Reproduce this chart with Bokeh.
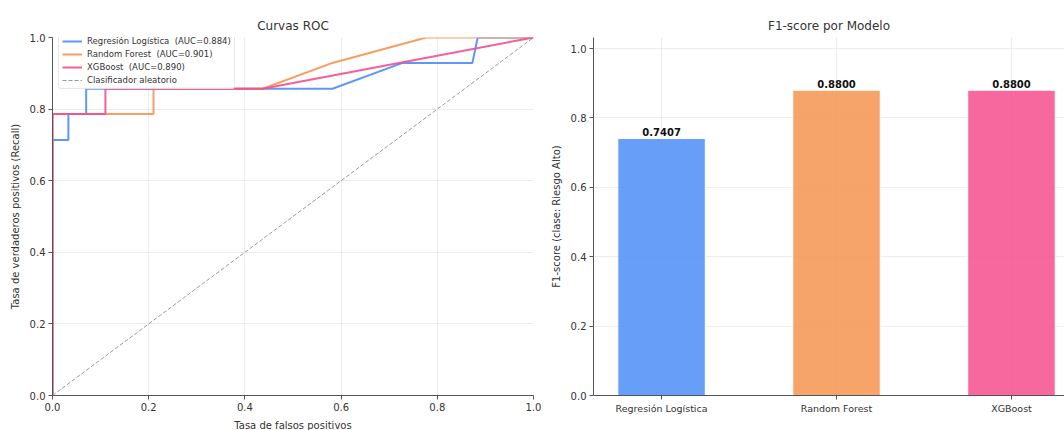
from bokeh.plotting import figure
from bokeh.layouts import row
from bokeh.models import (Range1d, FixedTicker, Legend, LegendItem, ColumnDataSource,
                          PrintfTickFormatter)
from bokeh.core.properties import value
from bokeh.embed import file_html
from bokeh.resources import INLINE

# ---------------- data ----------------
roc_names = ["Regresión Logística", "Random Forest", "XGBoost"]
roc_auc = [0.884, 0.901, 0.890]
lr_fpr = [0.0, 0.0, 0.033, 0.033, 0.07, 0.07, 0.582, 0.728, 0.873, 0.884, 1.0]
lr_tpr = [0.0, 0.714, 0.714, 0.786, 0.786, 0.857, 0.857, 0.929, 0.929, 1.0, 1.0]
rf_fpr = [0.0, 0.0, 0.21, 0.21, 0.437, 0.582, 0.777, 1.0]
rf_tpr = [0.0, 0.786, 0.786, 0.857, 0.857, 0.929, 1.0, 1.0]
xgb_fpr = [0.0, 0.0, 0.11, 0.11, 0.437, 0.72, 1.0]
xgb_tpr = [0.0, 0.786, 0.786, 0.857, 0.857, 0.929, 1.0]

models = ["Regresión Logística", "Random Forest", "XGBoost"]
f1_scores = [0.7407, 0.8800, 0.8800]
y_ticks = [0.0, 0.2, 0.4, 0.6, 0.8, 1.0]

colors = ["#4b8df7", "#f69450", "#f54e8d"]
FONT = "DejaVu Sans"
TXT = "#333333"
AX = "#555555"


def style(p):
    p.title.text_font = FONT
    p.title.text_font_size = "12px"
    p.title.text_font_style = "normal"
    p.title.text_color = TXT
    p.title.align = "center"
    for ax in (p.xaxis[0], p.yaxis[0]):
        ax.major_label_text_font = FONT
        ax.major_label_text_font_size = "10px"
        ax.major_label_text_color = TXT
        ax.axis_label_text_font = FONT
        ax.axis_label_text_font_size = "10px"
        ax.axis_label_text_font_style = "normal"
        ax.axis_label_text_color = TXT
        ax.axis_line_color = AX
        ax.major_tick_line_color = AX
        ax.major_tick_out = 4
        ax.major_tick_in = 0
        ax.minor_tick_line_color = None
        ax.axis_label_standoff = 6
        ax.major_label_standoff = 3
    p.xgrid.grid_line_color = "#e8e8e8"
    p.ygrid.grid_line_color = "#e8e8e8"
    p.grid.grid_line_alpha = 0.8
    p.outline_line_color = None
    p.background_fill_color = "white"
    p.border_fill_color = "white"


# ---------------- ROC figure ----------------
p1 = figure(output_backend="svg", toolbar_location=None,
            frame_width=481, frame_height=358,
            x_range=Range1d(0, 1), y_range=Range1d(0, 1),
            title="Curvas ROC",
            min_border_left=52, min_border_right=14,
            min_border_top=37, min_border_bottom=33)
style(p1)
p1.xaxis.axis_label = "Tasa de falsos positivos"
p1.yaxis.axis_label = "Tasa de verdaderos positivos (Recall)"
p1.xaxis.ticker = FixedTicker(ticks=y_ticks)
p1.yaxis.ticker = FixedTicker(ticks=y_ticks)
p1.xaxis.formatter = PrintfTickFormatter(format="%.1f")
p1.yaxis.formatter = PrintfTickFormatter(format="%.1f")

items = []
for name, auc, fx, ty, c in zip(roc_names, roc_auc,
                                 [lr_fpr, rf_fpr, xgb_fpr],
                                 [lr_tpr, rf_tpr, xgb_tpr], colors):
    r = p1.line(fx, ty, line_color=c, line_width=2, line_alpha=0.9)
    items.append(LegendItem(label=f"{name}  (AUC={auc:.3f})", renderers=[r]))
rd = p1.line([0, 1], [0, 1], line_color="#999999", line_dash="4 2", line_width=1)
items.append(LegendItem(label="Clasificador aleatorio", renderers=[rd]))

leg = Legend(items=items, location=(6, 306))
leg.label_text_font = FONT
leg.label_text_font_size = "8.5px"
leg.label_text_color = TXT
leg.label_height = 10
leg.glyph_height = 10
leg.glyph_width = 20
leg.label_standoff = 5
leg.spacing = 3
leg.padding = 3
leg.margin = 0
leg.border_line_color = "#d0d0d0"
leg.border_radius = 3
leg.background_fill_alpha = 0.85
p1.add_layout(leg)

# ---------------- F1 bar figure ----------------
xs = list(range(len(models)))
p2 = figure(output_backend="svg", toolbar_location=None,
            frame_width=471, frame_height=358,
            x_range=Range1d(-0.389, 2.303), y_range=Range1d(0, 1.032),
            title="F1-score por Modelo",
            min_border_left=45, min_border_right=0,
            min_border_top=37, min_border_bottom=33)
style(p2)
p2.yaxis.axis_label = "F1-score (clase: Riesgo Alto)"
p2.yaxis.ticker = FixedTicker(ticks=y_ticks)
p2.yaxis.formatter = PrintfTickFormatter(format="%.1f")
p2.xaxis.ticker = FixedTicker(ticks=xs)
p2.xaxis.major_label_overrides = {i: m for i, m in zip(xs, models)}
p2.xaxis.major_label_text_font_size = "9.5px"

src = ColumnDataSource(dict(x=xs, top=f1_scores, color=colors,
                            lbl=[f"{v:.4f}" for v in f1_scores],
                            ly=[v + 0.007 for v in f1_scores]))
p2.vbar(x="x", top="top", width=0.5, fill_color="color", fill_alpha=0.85,
        line_color="white", line_width=1, source=src)
p2.text(x="x", y="ly", text="lbl", source=src, text_align="center",
        text_baseline="bottom", text_font_size="10px", text_font_style="bold",
        text_color="#111111", text_font=value(FONT))

layout = row(p1, p2, spacing=0)
open("out.html", "w").write(file_html(layout, INLINE))
